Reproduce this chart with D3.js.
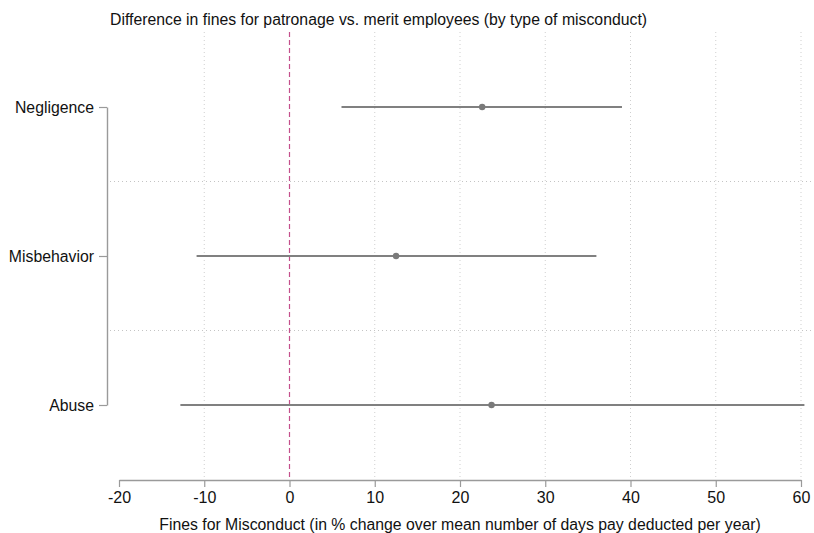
<!DOCTYPE html>
<html>
<head>
<meta charset="utf-8">
<script src="https://cdn.jsdelivr.net/npm/d3@7"></script>
<style>
  body { margin: 0; background: #fff; }
  text { font-family: "Liberation Sans", Arial, sans-serif; fill: #111; }
</style>
</head>
<body>
<svg id="chart" width="814" height="533"></svg>
<script>
// data
const categories = ["Negligence", "Misbehavior", "Abuse"];
const estimates = [22.6, 12.5, 23.7];
const ciLow = [6.1, -10.9, -12.8];
const ciHigh = [39.0, 36.0, 60.4];
const xTicks = [-20, -10, 0, 10, 20, 30, 40, 50, 60];

const svg = d3.select("#chart");
const width = 814, height = 533;
const margin = {left: 107, right: 13, top: 32, bottom: 53};
const fontFam = '"Liberation Sans", Arial, sans-serif';

// x scale: -20 .. 60 between 119 and 801
const x = d3.scaleLinear().domain([-20, 60]).range([119, 801]);
// y: three rows, ~150 px apart
const y = d3.scalePoint().domain(categories).range([107, 405]);
const rowStep = y.step();

// vertical dotted grid
svg.append("g")
  .selectAll("line")
  .data(xTicks.filter(d => d !== -20))
  .join("line")
  .attr("x1", d => x(d)).attr("x2", d => x(d))
  .attr("y1", margin.top).attr("y2", 477)
  .attr("stroke", "#cfcfcf")
  .attr("stroke-width", 1)
  .attr("stroke-dasharray", "1,3");

// horizontal dotted separators between rows
svg.append("g")
  .selectAll("line")
  .data(categories.slice(0, -1))
  .join("line")
  .attr("x1", 110).attr("x2", width)
  .attr("y1", d => y(d) + rowStep / 2).attr("y2", d => y(d) + rowStep / 2)
  .attr("stroke", "#c4c4c4")
  .attr("stroke-width", 1)
  .attr("stroke-dasharray", "1,3");

// reference line at zero
svg.append("line")
  .attr("x1", x(0)).attr("x2", x(0))
  .attr("y1", margin.top).attr("y2", 477)
  .attr("stroke", "#c4508c")
  .attr("stroke-width", 1.2)
  .attr("stroke-dasharray", "5,3");

// x axis
const xAxis = svg.append("g")
  .attr("transform", "translate(0,480)")
  .call(d3.axisBottom(x).tickValues(xTicks).tickFormat(d => String(d))
    .tickSize(7).tickPadding(5).tickSizeOuter(0));
xAxis.select(".domain").attr("stroke", "#9a9a9a").attr("stroke-width", 1.4);
xAxis.selectAll(".tick line").attr("stroke", "#9a9a9a").attr("stroke-width", 1.2);
xAxis.selectAll(".tick text")
  .style("font-family", fontFam)
  .style("font-size", "16px").attr("fill", "#111");

// y axis
const yAxis = svg.append("g")
  .attr("transform", "translate(107,0)")
  .call(d3.axisLeft(y).tickSize(8).tickPadding(5).tickSizeOuter(0));
yAxis.select(".domain").attr("stroke", "#9a9a9a").attr("stroke-width", 1.4);
yAxis.selectAll(".tick line").attr("stroke", "#9a9a9a").attr("stroke-width", 1.2);
yAxis.selectAll(".tick text")
  .style("font-family", fontFam)
  .style("font-size", "15.8px").attr("fill", "#111");

// confidence intervals
svg.append("g")
  .selectAll("line")
  .data(categories)
  .join("line")
  .attr("x1", (d, i) => x(ciLow[i]))
  .attr("x2", (d, i) => x(ciHigh[i]))
  .attr("y1", d => y(d)).attr("y2", d => y(d))
  .attr("stroke", "#808080")
  .attr("stroke-width", 1.8);

// point estimates
svg.append("g")
  .selectAll("circle")
  .data(categories)
  .join("circle")
  .attr("cx", (d, i) => x(estimates[i]))
  .attr("cy", d => y(d))
  .attr("r", 3.2)
  .attr("fill", "#7a7a7a");

// titles
svg.append("text")
  .attr("x", 110).attr("y", 25)
  .style("font-size", "15.8px")
  .text("Difference in fines for patronage vs. merit employees (by type of misconduct)");

svg.append("text")
  .attr("x", (x(-20) + x(60)) / 2).attr("y", 530)
  .attr("text-anchor", "middle")
  .style("font-size", "15.8px")
  .text("Fines for Misconduct (in % change over mean number of days pay deducted per year)");
</script>
</body>
</html>
